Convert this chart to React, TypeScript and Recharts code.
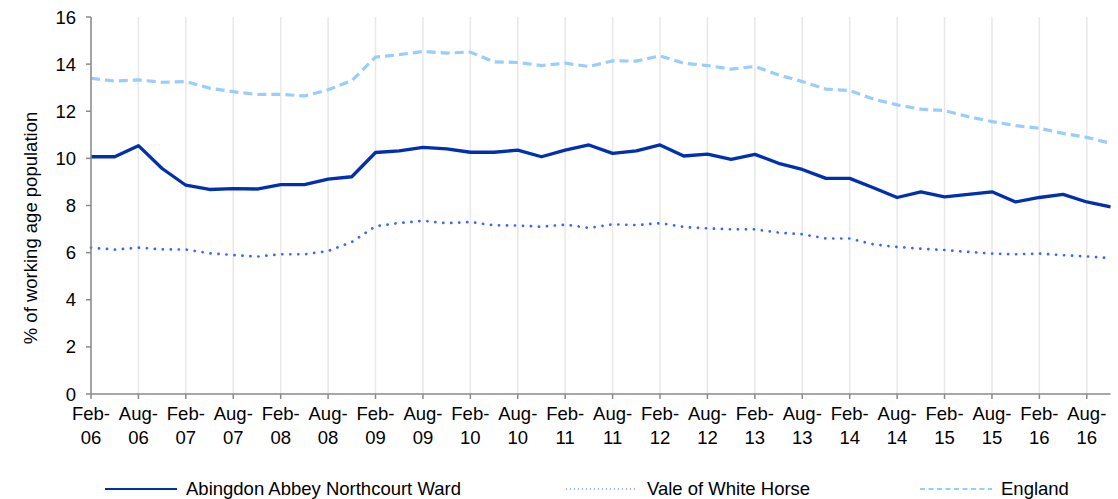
import { LineChart, Line, XAxis, YAxis, CartesianGrid } from 'recharts'

const periods = [
  'Feb-06', 'May-06', 'Aug-06', 'Nov-06', 'Feb-07', 'May-07', 'Aug-07', 'Nov-07',
  'Feb-08', 'May-08', 'Aug-08', 'Nov-08', 'Feb-09', 'May-09', 'Aug-09', 'Nov-09',
  'Feb-10', 'May-10', 'Aug-10', 'Nov-10', 'Feb-11', 'May-11', 'Aug-11', 'Nov-11',
  'Feb-12', 'May-12', 'Aug-12', 'Nov-12', 'Feb-13', 'May-13', 'Aug-13', 'Nov-13',
  'Feb-14', 'May-14', 'Aug-14', 'Nov-14', 'Feb-15', 'May-15', 'Aug-15', 'Nov-15',
  'Feb-16', 'May-16', 'Aug-16', 'Nov-16',
]

const abingdon = [
  10.07, 10.07, 10.54, 9.57, 8.86, 8.68, 8.72, 8.7, 8.89, 8.89, 9.12, 9.22,
  10.25, 10.32, 10.47, 10.4, 10.26, 10.26, 10.35, 10.07, 10.35, 10.57, 10.21, 10.32,
  10.57, 10.1, 10.18, 9.96, 10.17, 9.79, 9.53, 9.15, 9.15, 8.75, 8.34, 8.58,
  8.37, 8.47, 8.58, 8.15, 8.34, 8.47, 8.15, 7.94,
]

const vale = [
  6.21, 6.13, 6.21, 6.14, 6.13, 5.97, 5.9, 5.83, 5.93, 5.93, 6.07, 6.45,
  7.12, 7.26, 7.35, 7.25, 7.3, 7.16, 7.15, 7.1, 7.19, 7.05, 7.2, 7.17,
  7.25, 7.09, 7.03, 6.99, 6.99, 6.85, 6.78, 6.6, 6.6, 6.35, 6.24, 6.17,
  6.11, 6.03, 5.96, 5.93, 5.96, 5.89, 5.84, 5.77,
]

const england = [
  13.4, 13.28, 13.33, 13.23, 13.26, 12.98, 12.83, 12.71, 12.72, 12.65, 12.91, 13.3,
  14.3, 14.4, 14.54, 14.47, 14.51, 14.1, 14.07, 13.94, 14.04, 13.9, 14.14, 14.13,
  14.35, 14.04, 13.94, 13.79, 13.9, 13.54, 13.26, 12.94, 12.88, 12.52, 12.27, 12.09,
  12.03, 11.77, 11.56, 11.39, 11.28, 11.06, 10.89, 10.64,
]

const yTicks = [0, 2, 4, 6, 8, 10, 12, 14, 16]

const data = periods.map((p, i) => ({
  period: p,
  abingdon: abingdon[i],
  vale: vale[i],
  england: england[i],
}))

const series = [
  { key: 'abingdon', name: 'Abingdon Abbey Northcourt Ward', color: '#0030b0', width: 3.3, dash: undefined, cap: 'butt', legendLeft: 105, legendDash: undefined, legendWidth: 2.2 },
  { key: 'vale', name: 'Vale of White Horse', color: '#3366ff', width: 2.7, dash: '0.1 7.9', cap: 'round', legendLeft: 566, legendDash: '1 3', legendWidth: 1 },
  { key: 'england', name: 'England', color: '#99ccff', width: 3.2, dash: '9 5', cap: 'butt', legendLeft: 920, legendDash: '5 3.5', legendWidth: 2.2 },
]

const FONT = '"Liberation Sans", Arial, sans-serif'
const AXIS = '#8a8a8a'
const FS = 18.5

function MonthTick(props: any) {
  const { x, y, payload } = props
  const [m, yr] = String(payload.value).split('-')
  return (
    <text x={x} y={y} textAnchor="middle" fontSize={FS} fill="#000" fontFamily={FONT}>
      <tspan x={x} dy={18.5}>{m}-</tspan>
      <tspan x={x} dy={24}>{yr}</tspan>
    </text>
  )
}

function YTitle() {
  return (
    <text
      x={30}
      y={228}
      transform="rotate(-90 30 228)"
      textAnchor="middle"
      dominantBaseline="central"
      fontSize={FS}
      fill="#000"
      fontFamily={FONT}
    >
      % of working age population
    </text>
  )
}

export default function App() {
  return (
    <div style={{ position: 'absolute', left: 0, top: 0, width: 1118, height: 499, background: '#fff', fontFamily: FONT }}>
      <LineChart width={1118} height={499} data={data} margin={{ top: 17, right: 7.5, bottom: 0, left: 0 }}>
        <CartesianGrid horizontal={false} stroke="#e8e8e8" strokeWidth={1.5} syncWithTicks />
        <XAxis
          dataKey="period"
          interval={1}
          height={105}
          stroke={AXIS}
          strokeWidth={1.5}
          tickSize={5}
          tickMargin={2}
          tick={<MonthTick />}
        />
        <YAxis
          domain={[0, 16]}
          ticks={yTicks}
          width={91}
          stroke={AXIS}
          strokeWidth={1.5}
          tickSize={5}
          tickMargin={10}
          tick={{ fill: '#000', fontSize: FS, fontFamily: FONT }}
          label={<YTitle />}
        />
        {series.map((s) => (
          <Line
            key={s.key}
            dataKey={s.key}
            name={s.name}
            stroke={s.color}
            strokeWidth={s.width}
            strokeDasharray={s.dash}
            strokeLinecap={s.cap as any}
            strokeLinejoin="round"
            dot={false}
            activeDot={false}
            isAnimationActive={false}
          />
        ))}
      </LineChart>
      {series.map((s) => (
        <div
          key={s.key}
          style={{ position: 'absolute', left: s.legendLeft, top: 478, height: 22, display: 'flex', alignItems: 'center', fontSize: FS, color: '#000', whiteSpace: 'nowrap' }}
        >
          <svg width={72} height={6} style={{ marginRight: 9 }}>
            <line x1={0} y1={3} x2={72} y2={3} stroke={s.color} strokeWidth={s.legendWidth} strokeDasharray={s.legendDash} />
          </svg>
          <span>{s.name}</span>
        </div>
      ))}
    </div>
  )
}
